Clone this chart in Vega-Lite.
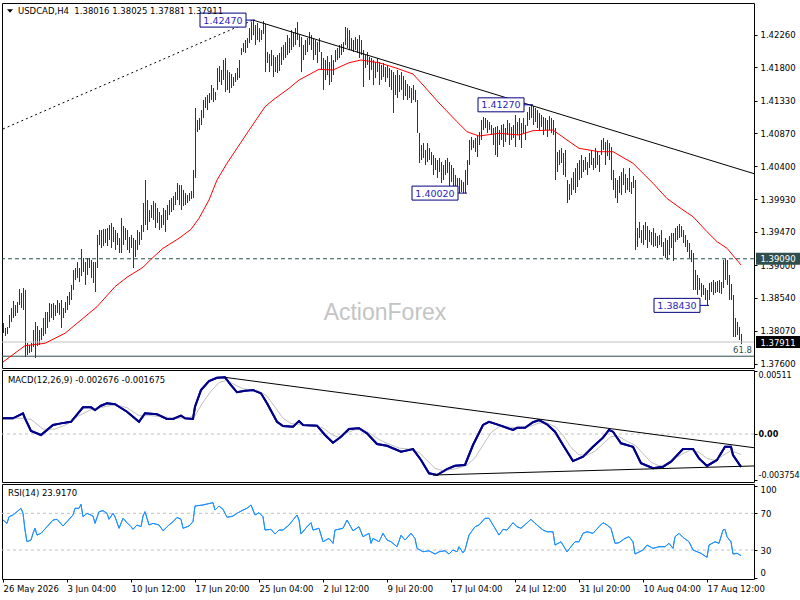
{
"$schema":"https://vega.github.io/schema/vega-lite/v6.json",
"background":"white",
"padding":{"left":-2,"top":2,"right":0,"bottom":0},
"spacing":2,
"bounds":"flush",
"config":{"view":{"stroke":"black","strokeWidth":1},"font":"DejaVu Sans","axis":{"labelFont":"DejaVu Sans","labelFontSize":8.5,"labelColor":"#000000","tickColor":"#000000","tickSize":3,"domain":false,"grid":false,"labelPadding":3},"text":{"font":"DejaVu Sans","fontSize":8.5}},
"datasets":{
"bars":[
{"i":0,"h":1.3818,"l":1.38039},{"i":1,"h":1.3811,"l":1.37996},{"i":2,"h":1.38124,"l":1.38025},{"i":3,"h":1.38294,"l":1.3811},{"i":4,"h":1.38393,"l":1.38195},{"i":5,"h":1.38492,"l":1.38251},{"i":6,"h":1.38435,"l":1.38279},{"i":7,"h":1.38478,"l":1.38322},{"i":8,"h":1.38662,"l":1.38435},{"i":9,"h":1.38605,"l":1.38393},
{"i":10,"h":1.38676,"l":1.38364},{"i":11,"h":1.38648,"l":1.37699},{"i":12,"h":1.37897,"l":1.37727},{"i":13,"h":1.37869,"l":1.37756},{"i":14,"h":1.37897,"l":1.3777},{"i":15,"h":1.38081,"l":1.3784},{"i":16,"h":1.38195,"l":1.37685},{"i":17,"h":1.38138,"l":1.37855},{"i":18,"h":1.38081,"l":1.37869},{"i":19,"h":1.3811,"l":1.3794},
{"i":20,"h":1.38251,"l":1.37996},{"i":21,"h":1.38336,"l":1.38025},{"i":22,"h":1.38336,"l":1.3811},{"i":23,"h":1.38464,"l":1.38195},{"i":24,"h":1.38449,"l":1.38251},{"i":25,"h":1.38464,"l":1.38223},{"i":26,"h":1.38435,"l":1.38279},{"i":27,"h":1.38506,"l":1.38322},{"i":28,"h":1.38464,"l":1.38294},{"i":29,"h":1.38506,"l":1.3811},
{"i":30,"h":1.38393,"l":1.38251},{"i":31,"h":1.38478,"l":1.38322},{"i":32,"h":1.38563,"l":1.38364},{"i":33,"h":1.38619,"l":1.38435},{"i":34,"h":1.38719,"l":1.38506},{"i":35,"h":1.38931,"l":1.38648},{"i":36,"h":1.38959,"l":1.38789},{"i":37,"h":1.39044,"l":1.38818},{"i":38,"h":1.38959,"l":1.38761},{"i":39,"h":1.39228,"l":1.38846},
{"i":40,"h":1.39101,"l":1.38903},{"i":41,"h":1.39044,"l":1.38719},{"i":42,"h":1.39101,"l":1.3886},{"i":43,"h":1.39101,"l":1.38959},{"i":44,"h":1.39072,"l":1.38818},{"i":45,"h":1.39044,"l":1.38747},{"i":46,"h":1.39044,"l":1.38619},{"i":47,"h":1.39427,"l":1.38959},{"i":48,"h":1.39497,"l":1.39285},{"i":49,"h":1.39497,"l":1.39242},
{"i":50,"h":1.39511,"l":1.39271},{"i":51,"h":1.39511,"l":1.39313},{"i":52,"h":1.39526,"l":1.39271},{"i":53,"h":1.39568,"l":1.39356},{"i":54,"h":1.39596,"l":1.39242},{"i":55,"h":1.3954,"l":1.39327},{"i":56,"h":1.39497,"l":1.39214},{"i":57,"h":1.39455,"l":1.39285},{"i":58,"h":1.39384,"l":1.39172},{"i":59,"h":1.39667,"l":1.39172},
{"i":60,"h":1.39554,"l":1.39285},{"i":61,"h":1.39526,"l":1.39356},{"i":62,"h":1.39497,"l":1.39214},{"i":63,"h":1.39398,"l":1.39172},{"i":64,"h":1.39427,"l":1.39242},{"i":65,"h":1.39384,"l":1.38959},{"i":66,"h":1.39356,"l":1.39115},{"i":67,"h":1.39497,"l":1.39214},{"i":68,"h":1.39469,"l":1.39285},{"i":69,"h":1.39568,"l":1.39356},
{"i":70,"h":1.3988,"l":1.39469},{"i":71,"h":1.40205,"l":1.39568},{"i":72,"h":1.39922,"l":1.39497},{"i":73,"h":1.3978,"l":1.39611},{"i":74,"h":1.39851,"l":1.39667},{"i":75,"h":1.39908,"l":1.39639},{"i":76,"h":1.3988,"l":1.39526},{"i":77,"h":1.39809,"l":1.39596},{"i":78,"h":1.39752,"l":1.39497},{"i":79,"h":1.3971,"l":1.39526},
{"i":80,"h":1.39809,"l":1.39568},{"i":81,"h":1.3978,"l":1.39469},{"i":82,"h":1.39851,"l":1.39639},{"i":83,"h":1.39922,"l":1.3971},{"i":84,"h":1.3995,"l":1.39752},{"i":85,"h":1.39979,"l":1.3978},{"i":86,"h":1.40035,"l":1.39851},{"i":87,"h":1.40163,"l":1.39922},{"i":88,"h":1.40134,"l":1.39851},{"i":89,"h":1.40134,"l":1.3978},
{"i":90,"h":1.40064,"l":1.39837},{"i":91,"h":1.40021,"l":1.39851},{"i":92,"h":1.39993,"l":1.3988},{"i":93,"h":1.40021,"l":1.39908},{"i":94,"h":1.40049,"l":1.39936},{"i":95,"h":1.40347,"l":1.3995},{"i":96,"h":1.41225,"l":1.40234},{"i":97,"h":1.41055,"l":1.40885},{"i":98,"h":1.41083,"l":1.40913},{"i":99,"h":1.41196,"l":1.40984},
{"i":100,"h":1.41338,"l":1.41083},{"i":101,"h":1.4138,"l":1.41225},{"i":102,"h":1.41409,"l":1.41196},{"i":103,"h":1.41437,"l":1.41296},{"i":104,"h":1.4155,"l":1.41338},{"i":105,"h":1.41508,"l":1.4131},{"i":106,"h":1.41451,"l":1.41338},{"i":107,"h":1.41791,"l":1.4148},{"i":108,"h":1.41819,"l":1.41593},{"i":109,"h":1.41763,"l":1.4155},
{"i":110,"h":1.41904,"l":1.41621},{"i":111,"h":1.41933,"l":1.41451},{"i":112,"h":1.41763,"l":1.4148},{"i":113,"h":1.41734,"l":1.41437},{"i":114,"h":1.41706,"l":1.41508},{"i":115,"h":1.41664,"l":1.41536},{"i":116,"h":1.4172,"l":1.41593},{"i":117,"h":1.41791,"l":1.41621},{"i":118,"h":1.41904,"l":1.41649},{"i":119,"h":1.42074,"l":1.41975},
{"i":120,"h":1.42145,"l":1.42018},{"i":121,"h":1.42188,"l":1.42004},{"i":122,"h":1.42216,"l":1.42074},{"i":123,"h":1.42357,"l":1.42145},{"i":124,"h":1.42442,"l":1.42188},{"i":125,"h":1.4247,"l":1.42258},{"i":126,"h":1.424,"l":1.42117},{"i":127,"h":1.42428,"l":1.42188},{"i":128,"h":1.42357,"l":1.42159},{"i":129,"h":1.42329,"l":1.42188},
{"i":130,"h":1.42457,"l":1.42273},{"i":131,"h":1.42414,"l":1.41734},{"i":132,"h":1.42018,"l":1.41862},{"i":133,"h":1.4199,"l":1.41734},{"i":134,"h":1.42046,"l":1.41819},{"i":135,"h":1.41975,"l":1.41664},{"i":136,"h":1.41947,"l":1.41734},{"i":137,"h":1.41975,"l":1.4172},{"i":138,"h":1.42004,"l":1.41749},{"i":139,"h":1.42089,"l":1.41834},
{"i":140,"h":1.42117,"l":1.41904},{"i":141,"h":1.42159,"l":1.41933},{"i":142,"h":1.42258,"l":1.41975},{"i":143,"h":1.42216,"l":1.42004},{"i":144,"h":1.42329,"l":1.42046},{"i":145,"h":1.42287,"l":1.42089},{"i":146,"h":1.42357,"l":1.42117},{"i":147,"h":1.42442,"l":1.42188},{"i":148,"h":1.42258,"l":1.42089},{"i":149,"h":1.4223,"l":1.41734},
{"i":150,"h":1.42117,"l":1.41904},{"i":151,"h":1.42188,"l":1.41975},{"i":152,"h":1.42216,"l":1.42018},{"i":153,"h":1.42301,"l":1.42117},{"i":154,"h":1.42258,"l":1.42046},{"i":155,"h":1.42216,"l":1.41904},{"i":156,"h":1.42188,"l":1.41975},{"i":157,"h":1.42159,"l":1.41862},{"i":158,"h":1.42216,"l":1.42018},{"i":159,"h":1.42018,"l":1.41763},
{"i":160,"h":1.41933,"l":1.4148},{"i":161,"h":1.41904,"l":1.41621},{"i":162,"h":1.41961,"l":1.41692},{"i":163,"h":1.41876,"l":1.4155},{"i":164,"h":1.41975,"l":1.41593},{"i":165,"h":1.41904,"l":1.41692},{"i":166,"h":1.42046,"l":1.41876},{"i":167,"h":1.42074,"l":1.41904},{"i":168,"h":1.42117,"l":1.41933},{"i":169,"h":1.42131,"l":1.41975},
{"i":170,"h":1.42159,"l":1.42018},{"i":171,"h":1.42372,"l":1.42117},{"i":172,"h":1.42357,"l":1.42074},{"i":173,"h":1.42329,"l":1.42046},{"i":174,"h":1.42216,"l":1.42046},{"i":175,"h":1.42188,"l":1.42018},{"i":176,"h":1.4223,"l":1.42046},{"i":177,"h":1.42202,"l":1.42004},{"i":178,"h":1.42258,"l":1.41933},{"i":179,"h":1.42188,"l":1.41975},
{"i":180,"h":1.42046,"l":1.41522},{"i":181,"h":1.41975,"l":1.41791},{"i":182,"h":1.42018,"l":1.41834},{"i":183,"h":1.41947,"l":1.41621},{"i":184,"h":1.41933,"l":1.41763},{"i":185,"h":1.41904,"l":1.4155},{"i":186,"h":1.41876,"l":1.41649},{"i":187,"h":1.41933,"l":1.41734},{"i":188,"h":1.41876,"l":1.4155},{"i":189,"h":1.41834,"l":1.41621},
{"i":190,"h":1.41862,"l":1.41664},{"i":191,"h":1.41805,"l":1.41593},{"i":192,"h":1.41834,"l":1.41649},{"i":193,"h":1.41791,"l":1.41522},{"i":194,"h":1.41763,"l":1.4148},{"i":195,"h":1.41734,"l":1.41154},{"i":196,"h":1.41692,"l":1.41409},{"i":197,"h":1.41763,"l":1.41366},{"i":198,"h":1.41692,"l":1.41451},{"i":199,"h":1.41734,"l":1.4148},
{"i":200,"h":1.41678,"l":1.41338},{"i":201,"h":1.41621,"l":1.41395},{"i":202,"h":1.41565,"l":1.41338},{"i":203,"h":1.41536,"l":1.41366},{"i":204,"h":1.41508,"l":1.41296},{"i":205,"h":1.4155,"l":1.41338},{"i":206,"h":1.4148,"l":1.4131},{"i":207,"h":1.41338,"l":1.40871},{"i":208,"h":1.40871,"l":1.40446},{"i":209,"h":1.40701,"l":1.40488},
{"i":210,"h":1.40729,"l":1.40517},{"i":211,"h":1.4063,"l":1.40418},{"i":212,"h":1.40729,"l":1.4046},{"i":213,"h":1.40658,"l":1.40488},{"i":214,"h":1.40602,"l":1.40418},{"i":215,"h":1.40559,"l":1.40276},{"i":216,"h":1.40517,"l":1.40347},{"i":217,"h":1.40488,"l":1.40234},{"i":218,"h":1.40517,"l":1.40318},{"i":219,"h":1.4046,"l":1.40163},
{"i":220,"h":1.40418,"l":1.40205},{"i":221,"h":1.40488,"l":1.40276},{"i":222,"h":1.40517,"l":1.40304},{"i":223,"h":1.4046,"l":1.40092},{"i":224,"h":1.40418,"l":1.40177},{"i":225,"h":1.40375,"l":1.40064},{"i":226,"h":1.40276,"l":1.40106},{"i":227,"h":1.40234,"l":1.40064},{"i":228,"h":1.40234,"l":1.40021},{"i":229,"h":1.40205,"l":1.40035},
{"i":230,"h":1.40177,"l":1.40021},{"i":231,"h":1.40347,"l":1.4002},{"i":232,"h":1.40488,"l":1.40134},{"i":233,"h":1.40772,"l":1.40418},{"i":234,"h":1.40814,"l":1.4063},{"i":235,"h":1.40772,"l":1.40658},{"i":236,"h":1.408,"l":1.40602},{"i":237,"h":1.40842,"l":1.40531},{"i":238,"h":1.40885,"l":1.40701},{"i":239,"h":1.41055,"l":1.40772},
{"i":240,"h":1.41097,"l":1.40913},{"i":241,"h":1.41083,"l":1.40942},{"i":242,"h":1.41055,"l":1.40871},{"i":243,"h":1.41026,"l":1.40913},{"i":244,"h":1.40984,"l":1.40842},{"i":245,"h":1.40942,"l":1.40701},{"i":246,"h":1.40956,"l":1.40559},{"i":247,"h":1.4097,"l":1.40531},{"i":248,"h":1.40913,"l":1.40701},{"i":249,"h":1.40984,"l":1.40772},
{"i":250,"h":1.40998,"l":1.40672},{"i":251,"h":1.40942,"l":1.40743},{"i":252,"h":1.41055,"l":1.40842},{"i":253,"h":1.41012,"l":1.40701},{"i":254,"h":1.40956,"l":1.40772},{"i":255,"h":1.40984,"l":1.408},{"i":256,"h":1.41126,"l":1.40672},{"i":257,"h":1.41026,"l":1.40842},{"i":258,"h":1.41083,"l":1.40772},{"i":259,"h":1.41012,"l":1.40658},
{"i":260,"h":1.41083,"l":1.40871},{"i":261,"h":1.40984,"l":1.40772},{"i":262,"h":1.41168,"l":1.4097},{"i":263,"h":1.41239,"l":1.41055},{"i":264,"h":1.4127,"l":1.41083},{"i":265,"h":1.41253,"l":1.40984},{"i":266,"h":1.41225,"l":1.41026},{"i":267,"h":1.41196,"l":1.40942},{"i":268,"h":1.41154,"l":1.40913},{"i":269,"h":1.41126,"l":1.40956},
{"i":270,"h":1.41097,"l":1.40842},{"i":271,"h":1.41083,"l":1.40913},{"i":272,"h":1.41055,"l":1.40814},{"i":273,"h":1.41111,"l":1.40913},{"i":274,"h":1.41083,"l":1.40871},{"i":275,"h":1.41055,"l":1.40842},{"i":276,"h":1.40942,"l":1.40205},{"i":277,"h":1.40602,"l":1.40318},{"i":278,"h":1.4063,"l":1.40418},{"i":279,"h":1.40658,"l":1.40446},
{"i":280,"h":1.40588,"l":1.40276},{"i":281,"h":1.4063,"l":1.40248},{"i":282,"h":1.40205,"l":1.3988},{"i":283,"h":1.40149,"l":1.39922},{"i":284,"h":1.40234,"l":1.39993},{"i":285,"h":1.40318,"l":1.40064},{"i":286,"h":1.40375,"l":1.40021},{"i":287,"h":1.40446,"l":1.40106},{"i":288,"h":1.40488,"l":1.40205},{"i":289,"h":1.40559,"l":1.40234},
{"i":290,"h":1.40488,"l":1.40318},{"i":291,"h":1.40531,"l":1.40347},{"i":292,"h":1.4046,"l":1.40276},{"i":293,"h":1.40588,"l":1.40375},{"i":294,"h":1.4063,"l":1.40418},{"i":295,"h":1.40517,"l":1.40347},{"i":296,"h":1.40658,"l":1.40375},{"i":297,"h":1.40602,"l":1.40418},{"i":298,"h":1.40559,"l":1.40318},{"i":299,"h":1.40772,"l":1.40559},
{"i":300,"h":1.408,"l":1.4063},{"i":301,"h":1.40743,"l":1.40418},{"i":302,"h":1.40772,"l":1.40545},{"i":303,"h":1.40729,"l":1.40488},{"i":304,"h":1.40672,"l":1.40205},{"i":305,"h":1.40347,"l":1.40064},{"i":306,"h":1.40234,"l":1.3995},{"i":307,"h":1.40205,"l":1.3988},{"i":308,"h":1.40262,"l":1.40021},{"i":309,"h":1.40318,"l":1.39993},
{"i":310,"h":1.40375,"l":1.40134},{"i":311,"h":1.4029,"l":1.40021},{"i":312,"h":1.40234,"l":1.40064},{"i":313,"h":1.40375,"l":1.40035},{"i":314,"h":1.40177,"l":1.40007},{"i":315,"h":1.40262,"l":1.40092},{"i":316,"h":1.40205,"l":1.39214},{"i":317,"h":1.39526,"l":1.39257},{"i":318,"h":1.39611,"l":1.39384},{"i":319,"h":1.39497,"l":1.39313},
{"i":320,"h":1.39568,"l":1.39285},{"i":321,"h":1.39611,"l":1.39356},{"i":322,"h":1.39554,"l":1.39242},{"i":323,"h":1.39497,"l":1.39327},{"i":324,"h":1.39469,"l":1.39285},{"i":325,"h":1.39526,"l":1.39257},{"i":326,"h":1.39455,"l":1.39271},{"i":327,"h":1.39412,"l":1.39242},{"i":328,"h":1.39427,"l":1.39285},{"i":329,"h":1.39497,"l":1.39257},
{"i":330,"h":1.39327,"l":1.39129},{"i":331,"h":1.39384,"l":1.39101},{"i":332,"h":1.39356,"l":1.39072},{"i":333,"h":1.39412,"l":1.39143},{"i":334,"h":1.39455,"l":1.39242},{"i":335,"h":1.39455,"l":1.39058},{"i":336,"h":1.39526,"l":1.39327},{"i":337,"h":1.39554,"l":1.39356},{"i":338,"h":1.39582,"l":1.39384},{"i":339,"h":1.39554,"l":1.39398},
{"i":340,"h":1.39497,"l":1.39313},{"i":341,"h":1.39427,"l":1.39257},{"i":342,"h":1.39356,"l":1.39186},{"i":343,"h":1.39313,"l":1.39101},{"i":344,"h":1.39214,"l":1.39044},{"i":345,"h":1.39172,"l":1.38648},{"i":346,"h":1.38931,"l":1.38648},{"i":347,"h":1.3886,"l":1.38577},{"i":348,"h":1.38818,"l":1.38648},{"i":349,"h":1.38747,"l":1.38549},
{"i":350,"h":1.38719,"l":1.38577},{"i":351,"h":1.38676,"l":1.38506},{"i":352,"h":1.38648,"l":1.3843},{"i":353,"h":1.38747,"l":1.38506},{"i":354,"h":1.38761,"l":1.38619},{"i":355,"h":1.38789,"l":1.38577},{"i":356,"h":1.38761,"l":1.38605},{"i":357,"h":1.38775,"l":1.38619},{"i":358,"h":1.38789,"l":1.38605},{"i":359,"h":1.38761,"l":1.38591},
{"i":360,"h":1.39072,"l":1.38676},{"i":361,"h":1.3909,"l":1.38789},{"i":362,"h":1.39072,"l":1.38719},{"i":363,"h":1.3886,"l":1.38506},{"i":364,"h":1.38733,"l":1.38506},{"i":365,"h":1.38577,"l":1.37982},{"i":366,"h":1.38251,"l":1.37982},{"i":367,"h":1.38195,"l":1.3801},{"i":368,"h":1.38124,"l":1.3794},{"i":369,"h":1.38025,"l":1.37881}
],
"ma":[
{"i":0,"v":1.37628},{"i":11,"v":1.37859},{"i":21,"v":1.37893},{"i":31,"v":1.38035},{"i":38,"v":1.38199},{"i":47,"v":1.38411},{"i":56,"v":1.38695},{"i":62,"v":1.38828},{"i":70,"v":1.38969},{"i":74,"v":1.39083},{"i":80,"v":1.39238},{"i":88,"v":1.3938},{"i":94,"v":1.39507},{"i":98,"v":1.39663},{"i":103,"v":1.39922},{"i":107,"v":1.40205},{"i":112,"v":1.40442},{"i":122,"v":1.40867},{"i":131,"v":1.41243},{"i":135,"v":1.41338},{"i":143,"v":1.41504},{"i":148,"v":1.41621},{"i":158,"v":1.41773},{"i":165,"v":1.41763},{"i":173,"v":1.41866},{"i":179,"v":1.41905},{"i":188,"v":1.41866},{"i":197,"v":1.41787},{"i":205,"v":1.41706},{"i":210,"v":1.41551},{"i":218,"v":1.41296},{"i":227,"v":1.41031},{"i":232,"v":1.40889},{"i":238,"v":1.40828},{"i":248,"v":1.40867},{"i":258,"v":1.40843},{"i":265,"v":1.40904},{"i":275,"v":1.40913},{"i":282,"v":1.40772},{"i":288,"v":1.40654},{"i":298,"v":1.40606},{"i":305,"v":1.40606},{"i":315,"v":1.40442},{"i":325,"v":1.40159},{"i":332,"v":1.39943},{"i":340,"v":1.39781},{"i":345,"v":1.39686},{"i":352,"v":1.39473},{"i":357,"v":1.39332},{"i":362,"v":1.39238},{"i":369,"v":1.39002}
],
"macd":[
{"i":0,"m":0.00128},{"i":5,"m":0.00128},{"i":10,"m":0.00169},{"i":11,"m":0.00128},{"i":14,"m":0.00025},{"i":19,"m":-0.00008},{"i":25,"m":0.00074},{"i":29,"m":0.00087},{"i":34,"m":0.001},{"i":40,"m":0.00218},{"i":44,"m":0.00218},{"i":46,"m":0.00196},{"i":49,"m":0.00231},{"i":52,"m":0.00251},{"i":56,"m":0.00243},{"i":62,"m":0.00182},{"i":68,"m":0.001},{"i":71,"m":0.00169},{"i":77,"m":0.00161},{"i":82,"m":0.00123},{"i":85,"m":0.00123},{"i":89,"m":0.0015},{"i":91,"m":0.00128},{"i":95,"m":0.00123},{"i":96,"m":0.00223},{"i":99,"m":0.00359},{"i":103,"m":0.00433},{"i":107,"m":0.0046},{"i":111,"m":0.00463},{"i":114,"m":0.004},{"i":117,"m":0.00341},{"i":121,"m":0.00354},{"i":125,"m":0.00359},{"i":129,"m":0.00333},{"i":132,"m":0.00251},{"i":137,"m":0.001},{"i":140,"m":0.00065},{"i":145,"m":0.0006},{"i":148,"m":0.00106},{"i":150,"m":0.00074},{"i":157,"m":0.00068},{"i":161,"m":-0.00008},{"i":165,"m":-0.00071},{"i":169,"m":-0.00022},{"i":173,"m":0.00041},{"i":178,"m":0.00047},{"i":182,"m":0.00006},{"i":187,"m":-0.00082},{"i":192,"m":-0.00096},{"i":199,"m":-0.00145},{"i":205,"m":-0.00123},{"i":209,"m":-0.00212},{"i":213,"m":-0.00321},{"i":217,"m":-0.00335},{"i":222,"m":-0.00286},{"i":226,"m":-0.00259},{"i":231,"m":-0.00253},{"i":235,"m":-0.0009},{"i":240,"m":0.00074},{"i":243,"m":0.001},{"i":247,"m":0.00079},{"i":255,"m":0.00033},{"i":257,"m":0.00051},{"i":261,"m":0.00051},{"i":265,"m":0.00096},{"i":268,"m":0.00114},{"i":272,"m":0.00079},{"i":276,"m":0.00019},{"i":280,"m":-0.0009},{"i":285,"m":-0.00221},{"i":290,"m":-0.00185},{"i":295,"m":-0.00104},{"i":300,"m":-0.0003},{"i":303,"m":0.00033},{"i":305,"m":0.00019},{"i":309,"m":-0.00076},{"i":315,"m":-0.00104},{"i":319,"m":-0.00239},{"i":325,"m":-0.0028},{"i":330,"m":-0.00267},{"i":334,"m":-0.00226},{"i":340,"m":-0.00123},{"i":345,"m":-0.00123},{"i":348,"m":-0.00199},{"i":352,"m":-0.00261},{"i":357,"m":-0.00212},{"i":361,"m":-0.00104},{"i":364,"m":-0.00104},{"i":365,"m":-0.00172},{"i":369,"m":-0.00268}
],
"sig":[
{"i":0,"s":0.0012},{"i":8,"s":0.0013},{"i":14,"s":0.0012},{"i":20,"s":0.0004},{"i":26,"s":0.0004},{"i":32,"s":0.0008},{"i":38,"s":0.0015},{"i":44,"s":0.002},{"i":50,"s":0.0022},{"i":56,"s":0.0024},{"i":62,"s":0.00215},{"i":68,"s":0.0015},{"i":74,"s":0.0015},{"i":80,"s":0.0014},{"i":86,"s":0.0013},{"i":92,"s":0.0013},{"i":96,"s":0.0015},{"i":100,"s":0.0026},{"i":104,"s":0.0035},{"i":108,"s":0.0042},{"i":112,"s":0.0044},{"i":116,"s":0.004},{"i":120,"s":0.0037},{"i":124,"s":0.0036},{"i":128,"s":0.0035},{"i":132,"s":0.0031},{"i":136,"s":0.0022},{"i":140,"s":0.0013},{"i":144,"s":0.00085},{"i":148,"s":0.0008},{"i":154,"s":0.00075},{"i":160,"s":0.0005},{"i":164,"s":0},{"i":168,"s":-0.0003},{"i":172,"s":0.0001},{"i":176,"s":0.00035},{"i":180,"s":0.00035},{"i":184,"s":0},{"i":188,"s":-0.00045},{"i":192,"s":-0.00075},{"i":198,"s":-0.00115},{"i":204,"s":-0.00125},{"i":208,"s":-0.0015},{"i":212,"s":-0.00215},{"i":216,"s":-0.0028},{"i":220,"s":-0.003},{"i":226,"s":-0.00285},{"i":232,"s":-0.00255},{"i":236,"s":-0.00195},{"i":240,"s":-0.0009},{"i":244,"s":0.0001},{"i":248,"s":0.0006},{"i":254,"s":0.00055},{"i":260,"s":0.0005},{"i":264,"s":0.00065},{"i":268,"s":0.0009},{"i":272,"s":0.0009},{"i":276,"s":0.0006},{"i":280,"s":-0.0001},{"i":284,"s":-0.0011},{"i":288,"s":-0.0017},{"i":292,"s":-0.00175},{"i":296,"s":-0.0014},{"i":300,"s":-0.0008},{"i":304,"s":-0.0002},{"i":308,"s":-0.0002},{"i":312,"s":-0.0006},{"i":316,"s":-0.0009},{"i":320,"s":-0.0016},{"i":324,"s":-0.0023},{"i":328,"s":-0.0026},{"i":332,"s":-0.0025},{"i":336,"s":-0.002},{"i":340,"s":-0.0016},{"i":344,"s":-0.0013},{"i":348,"s":-0.0015},{"i":352,"s":-0.002},{"i":356,"s":-0.00215},{"i":360,"s":-0.00175},{"i":364,"s":-0.00135},{"i":369,"s":-0.00168}
],
"rsi":[
{"i":0,"r":62.7},{"i":2,"r":59.1},{"i":3,"r":66.3},{"i":5,"r":68.2},{"i":7,"r":71.8},{"i":9,"r":75.5},{"i":10,"r":70},{"i":11,"r":51.8},{"i":12,"r":39},{"i":14,"r":40.9},{"i":15,"r":48.2},{"i":16,"r":53.7},{"i":17,"r":46.3},{"i":19,"r":48.2},{"i":22,"r":55.4},{"i":25,"r":62.7},{"i":27,"r":63.5},{"i":30,"r":56.2},{"i":32,"r":60.9},{"i":35,"r":68.2},{"i":36,"r":75.5},{"i":38,"r":75.5},{"i":39,"r":79.8},{"i":40,"r":66.3},{"i":42,"r":70},{"i":45,"r":67.1},{"i":46,"r":59.1},{"i":48,"r":71.8},{"i":50,"r":72.9},{"i":52,"r":70},{"i":53,"r":63.5},{"i":55,"r":70},{"i":56,"r":66.3},{"i":58,"r":53.7},{"i":60,"r":64.6},{"i":62,"r":59.8},{"i":64,"r":55.4},{"i":65,"r":52.6},{"i":67,"r":57.3},{"i":69,"r":55.4},{"i":70,"r":67.1},{"i":71,"r":71.8},{"i":73,"r":57.3},{"i":75,"r":59.1},{"i":78,"r":57.3},{"i":80,"r":51},{"i":83,"r":57.3},{"i":85,"r":60.9},{"i":87,"r":65.6},{"i":89,"r":63.5},{"i":90,"r":53.7},{"i":93,"r":56.2},{"i":95,"r":60.9},{"i":96,"r":78},{"i":100,"r":79.1},{"i":102,"r":80.2},{"i":105,"r":81.6},{"i":106,"r":73.6},{"i":108,"r":78},{"i":110,"r":74.4},{"i":112,"r":65.6},{"i":115,"r":67.1},{"i":117,"r":70},{"i":120,"r":73.6},{"i":122,"r":75.5},{"i":124,"r":79.1},{"i":126,"r":68.2},{"i":128,"r":70.7},{"i":130,"r":66.3},{"i":131,"r":51.8},{"i":134,"r":52.6},{"i":136,"r":47.4},{"i":138,"r":51.8},{"i":140,"r":51.8},{"i":143,"r":57.3},{"i":147,"r":68.2},{"i":148,"r":62.7},{"i":149,"r":47.4},{"i":152,"r":55.4},{"i":154,"r":59.8},{"i":155,"r":51.8},{"i":158,"r":53.7},{"i":160,"r":39},{"i":163,"r":42.7},{"i":165,"r":37.3},{"i":166,"r":51.8},{"i":170,"r":53.7},{"i":172,"r":62.7},{"i":175,"r":51},{"i":178,"r":55.4},{"i":180,"r":44.5},{"i":183,"r":48.2},{"i":184,"r":37.3},{"i":185,"r":42.7},{"i":188,"r":39},{"i":190,"r":48.2},{"i":192,"r":40.9},{"i":194,"r":39},{"i":197,"r":33.6},{"i":199,"r":46},{"i":201,"r":40.9},{"i":204,"r":48.2},{"i":206,"r":42.7},{"i":207,"r":31.8},{"i":210,"r":28.1},{"i":213,"r":29.2},{"i":216,"r":25.6},{"i":218,"r":28.1},{"i":221,"r":29.2},{"i":223,"r":25.6},{"i":225,"r":30},{"i":227,"r":28.1},{"i":228,"r":33.6},{"i":230,"r":27},{"i":231,"r":30},{"i":233,"r":46.3},{"i":236,"r":55.4},{"i":238,"r":57.3},{"i":241,"r":64.6},{"i":243,"r":64.6},{"i":245,"r":57.3},{"i":248,"r":46.3},{"i":250,"r":52.6},{"i":252,"r":51.8},{"i":255,"r":59.8},{"i":257,"r":55.4},{"i":259,"r":53.7},{"i":264,"r":63.5},{"i":266,"r":59.1},{"i":270,"r":51.8},{"i":272,"r":49.9},{"i":275,"r":49.9},{"i":276,"r":35.4},{"i":279,"r":39},{"i":282,"r":28.1},{"i":284,"r":33.6},{"i":286,"r":39},{"i":288,"r":39},{"i":290,"r":48.2},{"i":292,"r":49.9},{"i":295,"r":48.2},{"i":298,"r":55.4},{"i":300,"r":59.8},{"i":302,"r":57.3},{"i":304,"r":53.7},{"i":306,"r":37.3},{"i":308,"r":38},{"i":311,"r":42.7},{"i":313,"r":44.5},{"i":315,"r":39},{"i":316,"r":25.6},{"i":320,"r":30},{"i":322,"r":35.4},{"i":325,"r":31.8},{"i":328,"r":33.6},{"i":331,"r":33.6},{"i":333,"r":37.3},{"i":335,"r":31.8},{"i":336,"r":44.5},{"i":338,"r":48.2},{"i":340,"r":43.8},{"i":343,"r":39},{"i":345,"r":30},{"i":349,"r":26.4},{"i":352,"r":22},{"i":353,"r":35.4},{"i":356,"r":39},{"i":358,"r":37.3},{"i":360,"r":51.8},{"i":361,"r":52.6},{"i":362,"r":44.5},{"i":364,"r":39},{"i":365,"r":25.6},{"i":367,"r":26.4},{"i":369,"r":23.9}
],
"tags":[{"i":125,"p":1.4247,"t":"1.42470"},{"i":264,"p":1.4127,"t":"1.41270"},{"i":231,"p":1.4002,"t":"1.40020"},{"i":352,"p":1.3843,"t":"1.38430"}],
"axtags":[{"p":1.3909,"t":"1.39090","k":"level"},{"p":1.37911,"t":"1.37911","k":"bid"}]
},
"vconcat":[
{"width":752,"height":365,"resolve":{"axis":{"x":"independent","y":"independent"}},"layer":[
{"data":{"name":"bars"},"mark":{"type":"rule","color":"#1a3a52","strokeWidth":1,"xOffset":0.5},"encoding":{"x":{"field":"i","type":"quantitative","scale":{"domain":[-0.5,375.5],"nice":false,"zero":false},"axis":null},"y":{"field":"h","type":"quantitative","scale":{"domain":[1.37543,1.42712],"nice":false,"zero":false},"axis":{"orient":"right","title":null,"values":[1.376,1.3807,1.3854,1.39,1.3947,1.3993,1.404,1.4087,1.4133,1.418,1.4226],"format":".5f"}},"y2":{"field":"l"}}},
{"data":{"values":[{}]},"mark":{"type":"text","font":"Liberation Sans","fontSize":23,"color":"#c4c4c4","align":"center","baseline":"middle"},"encoding":{"x":{"datum":191,"type":"quantitative","axis":null},"y":{"datum":1.38322,"type":"quantitative","axis":null},"text":{"value":"ActionForex"}}},
{"data":{"values":[{}]},"mark":{"type":"rule","color":"#c0c0c0","strokeWidth":1},"encoding":{"y":{"datum":1.37911,"type":"quantitative","axis":null}}},
{"data":{"values":[{}]},"mark":{"type":"rule","color":"#2f4f4f","strokeWidth":1},"encoding":{"y":{"datum":1.3771,"type":"quantitative","axis":null}}},
{"data":{"values":[{}]},"mark":{"type":"rule","color":"#2f4f4f","strokeWidth":1,"strokeDash":[4,3]},"encoding":{"y":{"datum":1.3909,"type":"quantitative","axis":null}}},
{"data":{"values":[{"i":0,"p":1.40928},{"i":125,"p":1.4247}]},"mark":{"type":"line","color":"#000000","strokeWidth":1,"strokeDash":[2,3]},"encoding":{"x":{"field":"i","type":"quantitative","axis":null},"y":{"field":"p","type":"quantitative","axis":null}}},
{"data":{"values":[{"i":125,"p":1.4247},{"i":375.5,"p":1.40295}]},"mark":{"type":"line","color":"#000000","strokeWidth":1},"encoding":{"x":{"field":"i","type":"quantitative","axis":null},"y":{"field":"p","type":"quantitative","axis":null}}},
{"data":{"name":"ma"},"mark":{"type":"line","color":"#ff0000","strokeWidth":1},"encoding":{"x":{"field":"i","type":"quantitative","axis":null},"y":{"field":"v","type":"quantitative","axis":null}}},
{"data":{"name":"tags"},"mark":{"type":"rule","color":"#000080","strokeWidth":1,"xOffset":-7,"x2Offset":2},"encoding":{"x":{"field":"i","type":"quantitative","axis":null},"x2":{"field":"i"},"y":{"field":"p","type":"quantitative","axis":null}}},
{"data":{"name":"tags"},"mark":{"type":"point","shape":"M-1,-0.304L1,-0.304L1,0.304L-1,0.304Z","size":2116,"filled":true,"fill":"#ffffff","stroke":"#000080","strokeWidth":1,"opacity":1,"xOffset":-30},"encoding":{"x":{"field":"i","type":"quantitative","axis":null},"y":{"field":"p","type":"quantitative","axis":null}}},
{"data":{"name":"tags"},"mark":{"type":"text","fontSize":9.5,"color":"#1f1fbf","align":"center","baseline":"middle","dx":-30,"dy":0.5},"encoding":{"x":{"field":"i","type":"quantitative","axis":null},"y":{"field":"p","type":"quantitative","axis":null},"text":{"field":"t"}}},
{"data":{"name":"axtags"},"mark":{"type":"point","shape":"M-1,-0.27L1,-0.27L1,0.27L-1,0.27Z","size":1936,"filled":true,"opacity":1,"xOffset":24},"encoding":{"x":{"datum":375.5,"type":"quantitative","axis":null},"y":{"field":"p","type":"quantitative","axis":null},"color":{"field":"k","type":"nominal","scale":{"domain":["level","bid"],"range":["#2f4f4f","#000000"]},"legend":null}}},
{"data":{"name":"axtags"},"mark":{"type":"text","fontSize":8.5,"color":"#ffffff","align":"center","baseline":"middle","dx":24,"dy":0.5},"encoding":{"x":{"datum":375.5,"type":"quantitative","axis":null},"y":{"field":"p","type":"quantitative","axis":null},"text":{"field":"t"}}},
{"data":{"values":[{}]},"mark":{"type":"point","shape":"M-1,-0.6L1,-0.6L0,0.6Z","size":36,"filled":true,"color":"#000000","opacity":1,"xOffset":8},"encoding":{"x":{"datum":-0.5,"type":"quantitative","axis":null},"y":{"datum":1.42598,"type":"quantitative","axis":null}}},
{"data":{"values":[{}]},"mark":{"type":"text","fontSize":8.5,"color":"#000000","align":"left","baseline":"middle","dx":16},"encoding":{"x":{"datum":-0.5,"type":"quantitative","axis":null},"y":{"datum":1.42598,"type":"quantitative","axis":null},"text":{"value":"USDCAD,H4\u00a0 1.38016 1.38025 1.37881 1.37911"}}},
{"data":{"values":[{}]},"mark":{"type":"text","fontSize":8.5,"color":"#2f4f4f","align":"right","baseline":"bottom","dx":-2,"dy":-1},"encoding":{"x":{"datum":375.5,"type":"quantitative","axis":null},"y":{"datum":1.3771,"type":"quantitative","axis":null},"text":{"value":"61.8"}}}
]},
{"width":752,"height":112,"resolve":{"axis":{"x":"independent","y":"independent"}},"layer":[
{"data":{"name":"macd"},"mark":{"type":"line","color":"#00008b","strokeWidth":2},"encoding":{"x":{"field":"i","type":"quantitative","scale":{"domain":[-0.5,375.5],"nice":false,"zero":false},"axis":null},"y":{"field":"m","type":"quantitative","scale":{"domain":[-0.00392,0.00523],"nice":false,"zero":false},"axis":{"orient":"right","title":null,"values":[0.00511,0,-0.003754],"labelFontSize":8,"labelPadding":1,"labelExpr":"datum.value == 0 ? '0.00' : (datum.value > 0 ? '0.00511' : '-0.003754')","labelBaseline":{"condition":[{"test":"datum.value > 0.004","value":"top"},{"test":"datum.value < -0.003","value":"bottom"}],"value":"middle"},"labelFontWeight":{"condition":{"test":"datum.value == 0","value":"bold"},"value":"normal"}}}}},
{"data":{"values":[{}]},"mark":{"type":"rule","color":"#c0c0c0","strokeWidth":1,"strokeDash":[3,3]},"encoding":{"y":{"datum":0,"type":"quantitative","axis":null}}},
{"data":{"name":"sig"},"mark":{"type":"line","color":"#c0c0c0","strokeWidth":1},"encoding":{"x":{"field":"i","type":"quantitative","axis":null},"y":{"field":"s","type":"quantitative","axis":null}}},
{"data":{"name":"macd"},"mark":{"type":"line","color":"#00008b","strokeWidth":2},"encoding":{"x":{"field":"i","type":"quantitative","axis":null},"y":{"field":"m","type":"quantitative","axis":null}}},
{"data":{"values":[{"g":"u","i":111,"v":0.00463},{"g":"u","i":375.5,"v":-0.00112},{"g":"d","i":215,"v":-0.00335},{"g":"d","i":375.5,"v":-0.00261}]},"mark":{"type":"line","color":"#000000","strokeWidth":1},"encoding":{"x":{"field":"i","type":"quantitative","axis":null},"y":{"field":"v","type":"quantitative","axis":null},"detail":{"field":"g"}}},
{"data":{"values":[{}]},"mark":{"type":"text","fontSize":8.5,"color":"#000000","align":"left","baseline":"middle","dx":6},"encoding":{"x":{"datum":-0.5,"type":"quantitative","axis":null},"y":{"datum":0.0044,"type":"quantitative","axis":null},"text":{"value":"MACD(12,26,9) -0.002676 -0.001675"}}}
]},
{"width":752,"height":95,"resolve":{"axis":{"x":"independent","y":"independent"}},"layer":[
{"data":{"name":"rsi"},"mark":{"type":"line","color":"#1e90ff","strokeWidth":1},"encoding":{"x":{"field":"i","type":"quantitative","scale":{"domain":[-0.5,375.5],"nice":false,"zero":false},"axis":{"orient":"bottom","title":null,"values":[0,32,64,96,128,160,192,224,256,288,320,352],"labelExpr":"['26 May 2026','3 Jun 04:00','10 Jun 12:00','17 Jun 20:00','25 Jun 04:00','2 Jul 12:00','9 Jul 20:00','17 Jul 04:00','24 Jul 12:00','31 Jul 20:00','10 Aug 04:00','17 Aug 12:00'][round(datum.value/32)]","labelAlign":"left","labelFlush":false,"labelOverlap":false,"labelPadding":2}},"y":{"field":"r","type":"quantitative","scale":{"domain":[-1.6,102],"nice":false,"zero":false},"axis":{"orient":"right","title":null,"values":[100,70,30,0],"format":"d","labelBaseline":{"condition":[{"test":"datum.value >= 100","value":"top"},{"test":"datum.value <= 0","value":"bottom"}],"value":"middle"}}}}},
{"data":{"values":[{"v":70},{"v":30}]},"mark":{"type":"rule","color":"#c0c0c0","strokeWidth":1,"strokeDash":[3,3]},"encoding":{"y":{"field":"v","type":"quantitative","axis":null}}},
{"data":{"name":"rsi"},"mark":{"type":"line","color":"#1e90ff","strokeWidth":1},"encoding":{"x":{"field":"i","type":"quantitative","axis":null},"y":{"field":"r","type":"quantitative","axis":null}}},
{"data":{"values":[{}]},"mark":{"type":"text","fontSize":8.5,"color":"#000000","align":"left","baseline":"middle","dx":6},"encoding":{"x":{"datum":-0.5,"type":"quantitative","axis":null},"y":{"datum":92.5,"type":"quantitative","axis":null},"text":{"value":"RSI(14) 23.9170"}}}
]}
]
}
